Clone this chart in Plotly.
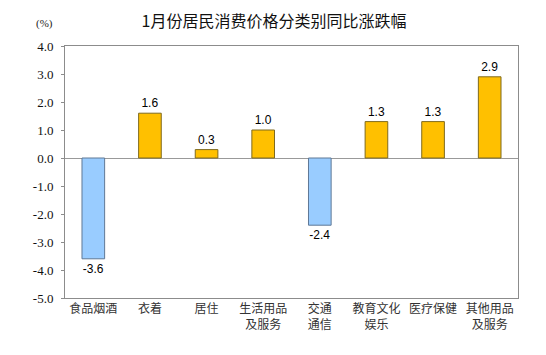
import plotly.graph_objects as go

categories = ["食品烟酒", "衣着", "居住", "生活用品<br>及服务", "交通<br>通信",
              "教育文化<br>娱乐", "医疗保健", "其他用品<br>及服务"]
values = [-3.6, 1.6, 0.3, 1.0, -2.4, 1.3, 1.3, 2.9]
y_ticks = [4.0, 3.0, 2.0, 1.0, 0.0, -1.0, -2.0, -3.0, -4.0, -5.0]
title_text = "1月份居民消费价格分类别同比涨跌幅"
unit_text = "(%)"

POS_FILL, POS_LINE = "#FFC000", "#7F6A1E"
NEG_FILL, NEG_LINE = "#99CCFF", "#5F7896"

fills = [POS_FILL if v >= 0 else NEG_FILL for v in values]
lines = [POS_LINE if v >= 0 else NEG_LINE for v in values]

# page has an 8px body margin; figure coords = page coords - 8
W, H = 538, 347
L, R, T, B = 57, 28, 38, 57
PW, PH = W - L - R, H - T - B

fig = go.Figure(go.Bar(
    x=categories, y=values,
    marker=dict(color=fills, line=dict(color=lines, width=1)),
    width=0.4,
    text=[f"{v:.1f}" for v in values],
    textposition="outside",
    textfont=dict(family="Liberation Sans, Arial", size=12, color="#000"),
    cliponaxis=False,
))

fig.update_layout(
    width=W, height=H,
    margin=dict(l=L, r=R, t=T, b=B),
    paper_bgcolor="white", plot_bgcolor="white",
    showlegend=False,
    title=dict(text=title_text, x=(274 - 8) / W, xanchor="center",
               y=1 - 13 / H, yref="container", yanchor="middle",
               font=dict(family="Noto Sans CJK SC", size=16, color="#111")),
    annotations=[dict(text=unit_text, x=(44 - 8 - L) / PW, y=(T + PH - (23 - 8)) / PH,
                      xref="paper", yref="paper", xanchor="center", yanchor="middle",
                      showarrow=False,
                      font=dict(family="Liberation Serif", size=11, color="#222"))],
)

fig.update_yaxes(
    range=[-5, 4], tickvals=y_ticks, ticktext=[f"{t:.1f}" for t in y_ticks],
    showgrid=False, zeroline=True, zerolinecolor="#999", zerolinewidth=1,
    showline=True, mirror=True, linecolor="#8c8c8c", linewidth=1,
    ticks="outside", ticklen=3, tickcolor="#8c8c8c",
    ticklabelstandoff=5,
    tickfont=dict(family="Liberation Serif", size=13, color="#111"),
    automargin=False,
)
fig.update_xaxes(
    showgrid=False, showline=True, mirror=True, linecolor="#8c8c8c", linewidth=1,
    ticks="", tickfont=dict(family="Noto Sans CJK SC", size=12, color="#333"),
    automargin=False,
)

fig.write_html("out.html")
